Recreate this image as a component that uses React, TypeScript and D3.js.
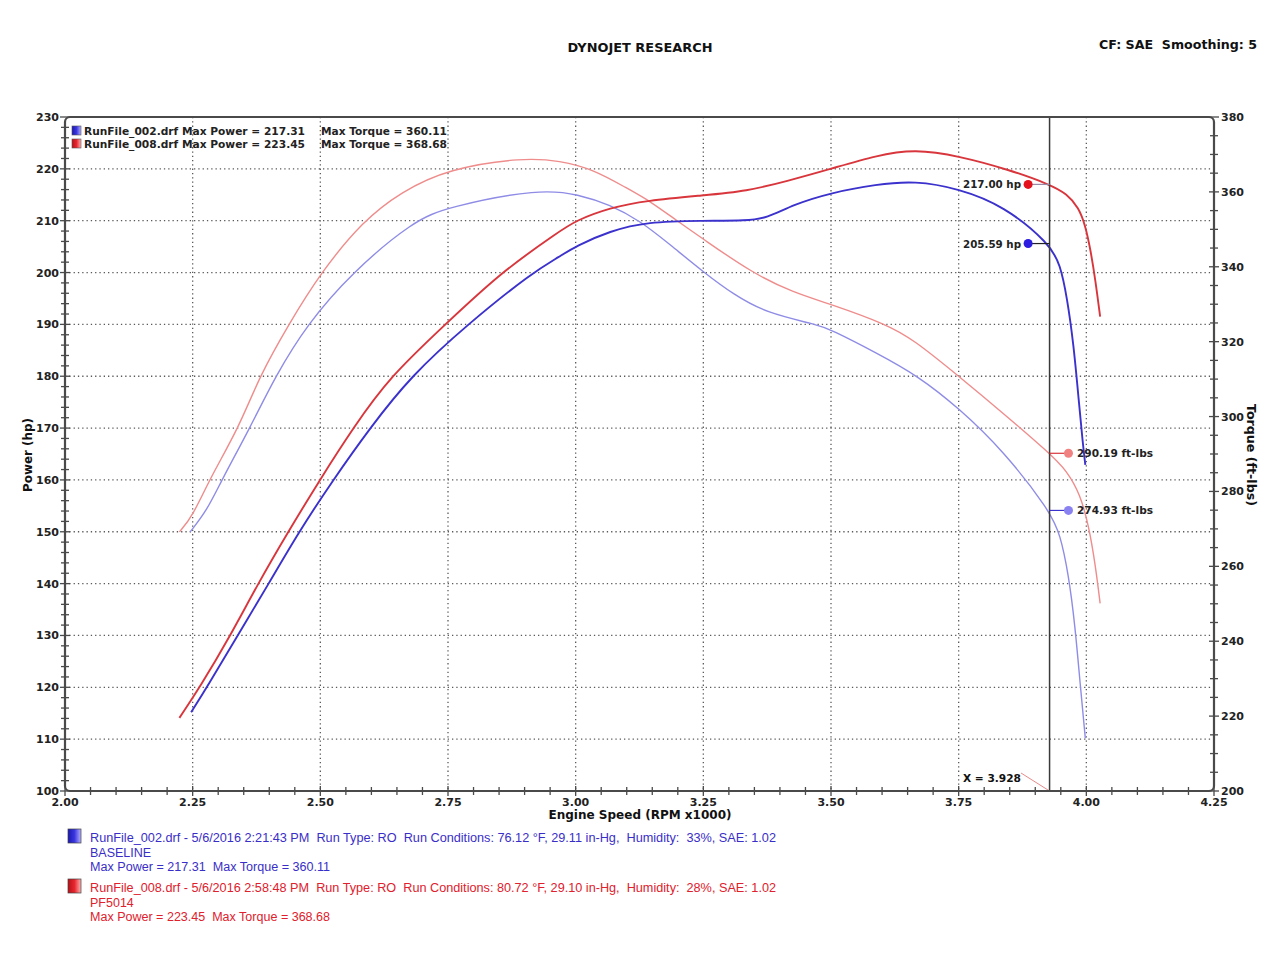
import React from "react";
import * as d3 from "d3";

// ---------- DATA ----------
const redPowerRpm = [2.224, 2.264, 2.324, 2.378, 2.437, 2.499, 2.564, 2.637, 2.745, 2.853, 2.969, 3.0, 3.067, 3.139, 3.251, 3.335, 3.413, 3.5, 3.589, 3.664, 3.75, 3.85, 3.928, 3.962, 3.985, 3.998, 4.008, 4.018, 4.027];
const redPowerHp = [114.1, 120, 130, 140, 150, 160, 170, 180, 190, 200, 208.0, 210, 212.5, 213.9, 214.9, 215.7, 217.6, 220, 222.6, 223.8, 222.5, 219.8, 217.0, 215.2, 212.5, 209.1, 204.5, 198.4, 191.5];

const bluePowerRpm = [2.247, 2.278, 2.338, 2.399, 2.458, 2.525, 2.597, 2.677, 2.788, 2.915, 2.969, 3.0, 3.067, 3.139, 3.251, 3.335, 3.374, 3.426, 3.5, 3.589, 3.664, 3.75, 3.838, 3.928, 3.949, 3.962, 3.975, 3.985, 3.993, 3.998];
const bluePowerHp = [115.2, 120, 130, 140, 150, 160, 170, 180, 190, 200, 203.1, 205.1, 208.0, 209.8, 210.0, 210.0, 210.5, 213.1, 215.4, 217.0, 217.7, 216.2, 212.9, 205.6, 201.5, 195.3, 186.2, 175.5, 167.1, 162.9];

const redTorqueRpm = [2.224, 2.25, 2.285, 2.34, 2.381, 2.438, 2.501, 2.584, 2.657, 2.75, 2.899, 2.969, 3.035, 3.1, 3.145, 3.198, 3.251, 3.344, 3.426, 3.5, 3.609, 3.661, 3.75, 3.838, 3.928, 3.962, 3.988, 4.005, 4.018, 4.027];
const redTorqueFt = [269.2, 273.4, 283.8, 296.9, 310.8, 324.6, 338.5, 352.3, 359.9, 366.2, 369.2, 368.3, 366.0, 361.0, 357.6, 352.3, 347.3, 338.5, 333.1, 330.0, 324.6, 320.6, 310.8, 300.8, 290.2, 285.5, 279.2, 270.7, 260.1, 250.1];

const blueTorqueRpm = [2.245, 2.278, 2.307, 2.362, 2.412, 2.474, 2.562, 2.683, 2.75, 2.931, 3.006, 3.067, 3.126, 3.185, 3.251, 3.309, 3.374, 3.472, 3.5, 3.589, 3.671, 3.75, 3.838, 3.928, 3.949, 3.965, 3.978, 3.988, 3.998];
const blueTorqueFt = [269.2, 274.9, 283.1, 296.9, 310.8, 324.6, 338.5, 352.3, 356.0, 360.9, 359.3, 356.6, 352.3, 345.9, 338.5, 332.6, 327.6, 324.6, 323.2, 317.0, 310.8, 302.3, 290.8, 274.9, 268.5, 257.9, 244.1, 228.4, 214.1];

const xTicks = [2.0, 2.25, 2.5, 2.75, 3.0, 3.25, 3.5, 3.75, 4.0, 4.25];
const hpTicks = [100, 110, 120, 130, 140, 150, 160, 170, 180, 190, 200, 210, 220, 230];
const tqTicks = [200, 220, 240, 260, 280, 300, 320, 340, 360, 380];

const cursorX = 3.928;
const cursorLabels = { redHp: "217.00 hp", blueHp: "205.59 hp", redTq: "290.19 ft-lbs", blueTq: "274.93 ft-lbs" };
const cursorValues = { redHp: 217.0, blueHp: 205.59, redTq: 290.19, blueTq: 274.93 };

const topLegend = [
  { name: "RunFile_002.drf Max Power = 217.31", torque: "Max Torque = 360.11", color: "blue" },
  { name: "RunFile_008.drf Max Power = 223.45", torque: "Max Torque = 368.68", color: "red" },
];
const bottomLegend = [
  { lines: ["RunFile_002.drf - 5/6/2016 2:21:43 PM  Run Type: RO  Run Conditions: 76.12 °F, 29.11 in-Hg,  Humidity:  33%, SAE: 1.02", "BASELINE", "Max Power = 217.31  Max Torque = 360.11"], color: "blue" },
  { lines: ["RunFile_008.drf - 5/6/2016 2:58:48 PM  Run Type: RO  Run Conditions: 80.72 °F, 29.10 in-Hg,  Humidity:  28%, SAE: 1.02", "PF5014", "Max Power = 223.45  Max Torque = 368.68"], color: "red" },
];

// ---------- LAYOUT ----------
const W = 1280, H = 959;
const L = 65, R = 1214, T = 117, B = 791;

const x = d3.scaleLinear().domain([2.0, 4.25]).range([L, R]);
const yHp = d3.scaleLinear().domain([100, 230]).range([B, T]);
const yTq = d3.scaleLinear().domain([200, 380]).range([B, T]);

const C = {
  redPow: "#d8363c",
  bluePow: "#3b31cc",
  redTq: "#ef8c8c",
  blueTq: "#8f8ce6",
  redDot: "#e4121c",
  blueDot: "#2b1ee0",
  redTqDot: "#f08282",
  blueTqDot: "#8a82f0",
  redText: "#e0202c",
  blueText: "#3a2ec8",
};

const BOLD = "'DejaVu Sans', Verdana, sans-serif";
const PRE = { whiteSpace: "pre" as const };

function pathFor(xs: number[], ys: number[], yScale: d3.ScaleLinear<number, number>) {
  const pts: [number, number][] = xs.map((v, i) => [v, ys[i]]);
  return d3
    .line<[number, number]>()
    .x((d) => x(d[0]))
    .y((d) => yScale(d[1]))
    .curve(d3.curveBasis)(pts) as string;
}

function range(a: number, b: number, step: number) {
  const out: number[] = [];
  for (let v = a; v <= b + 1e-9; v += step) out.push(Math.round(v * 1000) / 1000);
  return out;
}

export default function App() {
  const cx = x(cursorX);
  const hpMinor = range(100, 230, 2);
  const tqMinor = range(200, 380, 5);
  const xMinor = range(2.0, 4.25, 0.05);

  return (
    <svg width={W} height={H} style={{ position: "absolute", left: 0, top: 0, background: "#fff" }} xmlns="http://www.w3.org/2000/svg">
      <defs>
        <linearGradient id="gBlue" x1="0" x2="1" y1="0" y2="0">
          <stop offset="0" stopColor="#1a18b0" />
          <stop offset="0.5" stopColor="#3a36e0" />
          <stop offset="1" stopColor="#b4b0ff" />
        </linearGradient>
        <linearGradient id="gRed" x1="0" x2="1" y1="0" y2="0">
          <stop offset="0" stopColor="#b81018" />
          <stop offset="0.5" stopColor="#e8262e" />
          <stop offset="1" stopColor="#ffb0b0" />
        </linearGradient>
      </defs>
      <rect x={0} y={0} width={W} height={H} fill="#fff" />

      {/* Header */}
      <text x={640} y={52} textAnchor="middle" fontFamily={BOLD} fontWeight="bold" fontSize={12} fill="#111" textLength={145} lengthAdjust="spacingAndGlyphs">DYNOJET RESEARCH</text>
      <text x={1257} y={49} textAnchor="end" fontFamily={BOLD} fontWeight="bold" fontSize={13} fill="#111" textLength={158} lengthAdjust="spacingAndGlyphs" style={PRE}>CF: SAE  Smoothing: 5</text>

      {/* Grid */}
      <g stroke="#5a5a5a" strokeWidth={1.3} strokeDasharray="1.3,3">
        {hpTicks.slice(1, -1).map((v) => (
          <line key={"gh" + v} x1={L} x2={R} y1={yHp(v)} y2={yHp(v)} />
        ))}
        {xTicks.slice(1, -1).map((v) => (
          <line key={"gx" + v} x1={x(v)} x2={x(v)} y1={T} y2={B} />
        ))}
      </g>

      {/* Curves */}
      <path d={pathFor(redTorqueRpm, redTorqueFt, yTq)} fill="none" stroke={C.redTq} strokeWidth={1.4} />
      <path d={pathFor(blueTorqueRpm, blueTorqueFt, yTq)} fill="none" stroke={C.blueTq} strokeWidth={1.4} />
      <path d={pathFor(redPowerRpm, redPowerHp, yHp)} fill="none" stroke={C.redPow} strokeWidth={1.9} />
      <path d={pathFor(bluePowerRpm, bluePowerHp, yHp)} fill="none" stroke={C.bluePow} strokeWidth={1.9} />

      {/* Cursor */}
      <line x1={cx} x2={cx} y1={T} y2={B} stroke="#3a3a3a" strokeWidth={1.5} />
      <line x1={1021} y1={773} x2={cx} y2={B} stroke="#e88a8a" strokeWidth={1} />
      <text x={963} y={782} fontFamily={BOLD} fontWeight="bold" fontSize={11} fill="#111" textLength={58} lengthAdjust="spacingAndGlyphs">X = 3.928</text>

      {/* Cursor annotations */}
      <line x1={x(3.886)} x2={cx} y1={yHp(cursorValues.redHp)} y2={yHp(cursorValues.redHp)} stroke="#9a8aa8" strokeWidth={1.2} />
      <circle cx={x(3.886)} cy={yHp(cursorValues.redHp)} r={4.5} fill={C.redDot} />
      <text x={1021} y={yHp(cursorValues.redHp) + 4} textAnchor="end" fontFamily={BOLD} fontWeight="bold" fontSize={11} fill="#222" textLength={58} lengthAdjust="spacingAndGlyphs">{cursorLabels.redHp}</text>

      <line x1={x(3.886)} x2={cx} y1={yHp(cursorValues.blueHp)} y2={yHp(cursorValues.blueHp)} stroke="#222" strokeWidth={1.2} />
      <circle cx={x(3.886)} cy={yHp(cursorValues.blueHp)} r={4.5} fill={C.blueDot} />
      <text x={1021} y={yHp(cursorValues.blueHp) + 4} textAnchor="end" fontFamily={BOLD} fontWeight="bold" fontSize={11} fill="#222" textLength={58} lengthAdjust="spacingAndGlyphs">{cursorLabels.blueHp}</text>

      <line x1={cx} x2={x(3.965)} y1={yTq(cursorValues.redTq)} y2={yTq(cursorValues.redTq)} stroke={C.redPow} strokeWidth={1.2} />
      <circle cx={x(3.965)} cy={yTq(cursorValues.redTq)} r={4.5} fill={C.redTqDot} />
      <text x={1077} y={yTq(cursorValues.redTq) + 4} fontFamily={BOLD} fontWeight="bold" fontSize={11} fill="#222" textLength={76} lengthAdjust="spacingAndGlyphs">{cursorLabels.redTq}</text>

      <line x1={cx} x2={x(3.965)} y1={yTq(cursorValues.blueTq)} y2={yTq(cursorValues.blueTq)} stroke={C.bluePow} strokeWidth={1.2} />
      <circle cx={x(3.965)} cy={yTq(cursorValues.blueTq)} r={4.5} fill={C.blueTqDot} />
      <text x={1077} y={yTq(cursorValues.blueTq) + 4} fontFamily={BOLD} fontWeight="bold" fontSize={11} fill="#222" textLength={76} lengthAdjust="spacingAndGlyphs">{cursorLabels.blueTq}</text>

      {/* Frame */}
      <rect x={L} y={T} width={R - L} height={B - T} rx={5} ry={5} fill="none" stroke="#4a4a4a" strokeWidth={2.2} />

      {/* Axis ticks */}
      <g stroke="#4a4a4a" strokeWidth={1.3}>
        {hpMinor.map((v) => {
          const major = Math.abs(v % 10) < 1e-6;
          return <line key={"lt" + v} x1={L - (major ? 5 : 4)} x2={L + (major ? 5 : 4)} y1={yHp(v)} y2={yHp(v)} />;
        })}
        {tqMinor.map((v) => {
          const major = Math.abs(v % 20) < 1e-6;
          return <line key={"rt" + v} x1={R - (major ? 5 : 4)} x2={R + (major ? 5 : 4)} y1={yTq(v)} y2={yTq(v)} />;
        })}
        {xMinor.map((v) => {
          const major = Math.abs((v * 100) % 25) < 1e-6;
          return <line key={"bt" + v} x1={x(v)} x2={x(v)} y1={B - (major ? 5 : 4)} y2={B + (major ? 5 : 4)} />;
        })}
      </g>

      {/* Tick labels */}
      <g fontFamily={BOLD} fontWeight="bold" fontSize={11} fill="#222">
        {hpTicks.map((v) => (
          <text key={"hl" + v} x={L - 6} y={yHp(v) + 4} textAnchor="end">{v}</text>
        ))}
        {tqTicks.map((v) => (
          <text key={"tl" + v} x={R + 7} y={yTq(v) + 4} textAnchor="start">{v}</text>
        ))}
        {xTicks.map((v) => (
          <text key={"xl" + v} x={x(v)} y={B + 15} textAnchor="middle">{v.toFixed(2)}</text>
        ))}
      </g>

      {/* Axis titles */}
      <text transform={`translate(32,455) rotate(-90)`} textAnchor="middle" fontFamily={BOLD} fontWeight="bold" fontSize={12} fill="#111" textLength={74} lengthAdjust="spacingAndGlyphs">Power (hp)</text>
      <text transform={`translate(1247,455) rotate(90)`} textAnchor="middle" fontFamily={BOLD} fontWeight="bold" fontSize={12} fill="#111" textLength={102} lengthAdjust="spacingAndGlyphs">Torque (ft-lbs)</text>
      <text x={640} y={819} textAnchor="middle" fontFamily={BOLD} fontWeight="bold" fontSize={12} fill="#111" textLength={183} lengthAdjust="spacingAndGlyphs">Engine Speed (RPM x1000)</text>

      {/* Top legend */}
      {topLegend.map((d, i) => {
        const yy = 131 + i * 13;
        return (
          <g key={"tlg" + i}>
            <rect x={72} y={yy - 5} width={9} height={9} fill={d.color === "blue" ? "url(#gBlue)" : "url(#gRed)"} stroke="#555" strokeWidth={0.6} />
            <text x={84} y={yy + 4} fontFamily={BOLD} fontWeight="bold" fontSize={11} fill="#222" textLength={221} lengthAdjust="spacingAndGlyphs">{d.name}</text>
            <text x={321} y={yy + 4} fontFamily={BOLD} fontWeight="bold" fontSize={11} fill="#222" textLength={126} lengthAdjust="spacingAndGlyphs">{d.torque}</text>
          </g>
        );
      })}

      {/* Bottom legend */}
      {bottomLegend.map((d, i) => {
        const y0 = 837 + i * 50;
        const col = d.color === "blue" ? C.blueText : C.redText;
        return (
          <g key={"blg" + i}>
            <rect x={68} y={y0 - 8} width={13} height={14} fill={d.color === "blue" ? "url(#gBlue)" : "url(#gRed)"} stroke="#444" strokeWidth={0.7} />
            {d.lines.map((ln, j) => (
              <text key={j} x={90} y={y0 + 5 + j * 14.5} fontFamily="'Liberation Sans', Arial, sans-serif" fontSize={12.5} fill={col} style={PRE}
                {...(j === 0 ? { textLength: 686, lengthAdjust: "spacingAndGlyphs" } : j === 2 ? { textLength: 240, lengthAdjust: "spacingAndGlyphs" } : {})}>{ln}</text>
            ))}
          </g>
        );
      })}
    </svg>
  );
}
